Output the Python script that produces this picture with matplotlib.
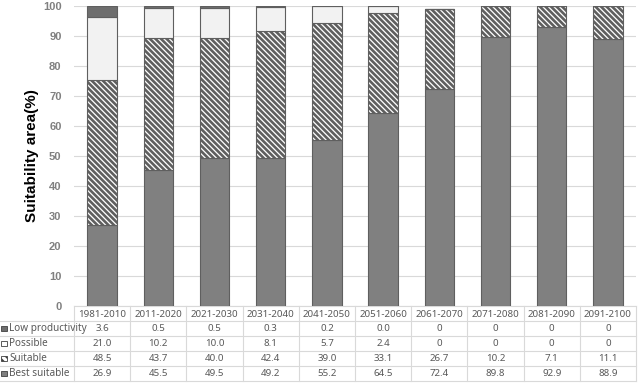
import matplotlib
matplotlib.use("Agg")
import matplotlib.pyplot as plt
from matplotlib.patches import Rectangle

periods = ["1981-2010", "2011-2020", "2021-2030", "2031-2040", "2041-2050",
           "2051-2060", "2061-2070", "2071-2080", "2081-2090", "2091-2100"]
best_suitable = [26.9, 45.5, 49.5, 49.2, 55.2, 64.5, 72.4, 89.8, 92.9, 88.9]
suitable = [48.5, 43.7, 40.0, 42.4, 39.0, 33.1, 26.7, 10.2, 7.1, 11.1]
possible = [21.0, 10.2, 10.0, 8.1, 5.7, 2.4, 0, 0, 0, 0]
low_productivity = [3.6, 0.5, 0.5, 0.3, 0.2, 0.0, 0, 0, 0, 0]

table_rows = [
    ("Low productivity", ["3.6", "0.5", "0.5", "0.3", "0.2", "0.0", "0", "0", "0", "0"]),
    ("Possible", ["21.0", "10.2", "10.0", "8.1", "5.7", "2.4", "0", "0", "0", "0"]),
    ("Suitable", ["48.5", "43.7", "40.0", "42.4", "39.0", "33.1", "26.7", "10.2", "7.1", "11.1"]),
    ("Best suitable", ["26.9", "45.5", "49.5", "49.2", "55.2", "64.5", "72.4", "89.8", "92.9", "88.9"]),
]

EDGE = "#5f5f5f"
GRID = "#d9d9d9"
TEXT = "#595959"

plt.rcParams["font.family"] = ["Noto Sans", "DejaVu Sans"]
plt.rcParams["hatch.linewidth"] = 1.9
plt.rcParams["hatch.color"] = "black"

W, H = 642, 384
fig = plt.figure(figsize=(W / 100, H / 100), dpi=100)

left, right = 74, 636
top, base = 6, 306
ax = fig.add_axes([left / W, 1 - base / H, (right - left) / W, (base - top) / H])

x = list(range(len(periods)))
width = 0.52
styles = [
    (best_suitable, dict(color="#808080")),
    (suitable, dict(color="white", hatch="\\" * 6)),
    (possible, dict(color="#f2f2f2")),
    (low_productivity, dict(color="#6e6e6e")),
]
bottom = [0.0] * len(periods)
for values, st in styles:
    ax.bar(x, values, width, bottom=bottom, edgecolor=EDGE, linewidth=0.8, zorder=3, **st)
    bottom = [b + v for b, v in zip(bottom, values)]

ax.set_xlim(-0.5, len(periods) - 0.5)
ax.set_ylim(0, 100)
ax.set_yticks(range(0, 101, 10))
ax.set_xticks([])
ax.tick_params(axis="y", length=0, labelsize=8, labelcolor="#808080", pad=9)
for lab in ax.get_yticklabels():
    lab.set_fontweight("bold")
    lab.set_family("Liberation Sans")
ax.yaxis.grid(True, color=GRID, linewidth=0.8, zorder=0)
for s in ("top", "right", "left"):
    ax.spines[s].set_visible(False)
ax.spines["bottom"].set_color(GRID)
ax.set_ylabel("Suitability area(%)", fontsize=11, fontweight="bold", family="Liberation Sans",
              color="black")
ax.yaxis.set_label_coords(-(left - 39) / (right - left), 0.5)

# data table below the plot
row_h = 15
tbl_top = base
n_rows = 1 + len(table_rows)
tax = fig.add_axes([left / W, 1 - (tbl_top + n_rows * row_h) / H,
                    (right - left) / W, n_rows * row_h / H])
tax.set_xlim(-0.5, len(periods) - 0.5)
tax.set_ylim(n_rows, 0)
tax.axis("off")
col_px = (right - left) / len(periods)
x_fig_left = -0.5 - left / col_px

for r in range(1, n_rows + 1):
    tax.plot([x_fig_left, len(periods) - 0.5], [r, r], color=GRID, lw=0.8, clip_on=False)
for c in range(len(periods) + 1):
    tax.plot([c - 0.5, c - 0.5], [0, n_rows], color=GRID, lw=0.8, clip_on=False)

for i, p in enumerate(periods):
    tax.text(i, 0.55, p, ha="center", va="center", fontsize=7, color=TEXT)

icons = [
    dict(facecolor="#6e6e6e"),
    dict(facecolor="white"),
    dict(facecolor="white", hatch="\\" * 4),
    dict(facecolor="#808080"),
]
sq = 5.5 / col_px
for r, ((name, vals), ic) in enumerate(zip(table_rows, icons), start=1):
    tax.add_patch(Rectangle((x_fig_left + 1 / col_px, r + 0.5 - 0.18), sq, 0.36,
                            edgecolor="#404040", linewidth=0.6, clip_on=False, **ic))
    tax.text(x_fig_left + 9 / col_px, r + 0.5, name, ha="left", va="center",
             fontsize=7.2, color=TEXT, clip_on=False)
    for i, v in enumerate(vals):
        tax.text(i, r + 0.5, v, ha="center", va="center", fontsize=7, color=TEXT)

fig.savefig("out.png", dpi=100, facecolor="white")
